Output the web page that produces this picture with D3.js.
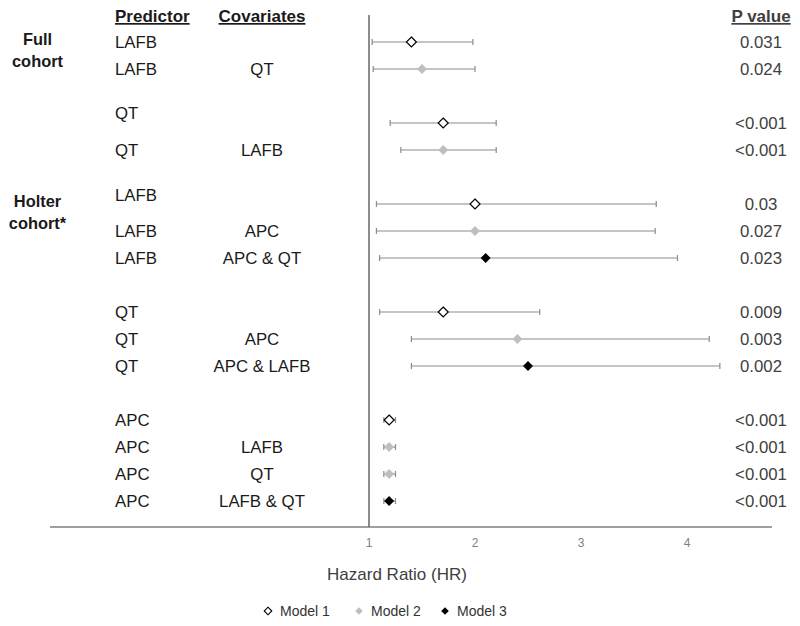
<!DOCTYPE html>
<html><head><meta charset="utf-8">
<script src="https://cdn.jsdelivr.net/npm/d3@7"></script>
<style>body{margin:0;background:#fff}svg{display:block;font-family:"Liberation Sans",Arial,sans-serif}</style>
</head><body><svg id="c" width="800" height="626"></svg>
<script>
const predictors = ["LAFB","LAFB","QT","QT","LAFB","LAFB","LAFB","QT","QT","QT","APC","APC","APC","APC"];
const covariates = ["","QT","","LAFB","","APC","APC & QT","","APC","APC & LAFB","","LAFB","QT","LAFB & QT"];
const groups = [0,0,1,1,2,2,2,3,3,3,4,4,4,4];
const models = [1,2,1,2,1,2,3,1,2,3,1,2,2,3];
const hr = [1.40,1.50,1.70,1.70,2.00,2.00,2.10,1.70,2.40,2.50,1.19,1.19,1.19,1.19];
const lo = [1.03,1.04,1.20,1.30,1.07,1.07,1.10,1.10,1.40,1.40,1.14,1.14,1.14,1.14];
const hi = [1.98,2.00,2.20,2.20,3.71,3.70,3.91,2.61,4.21,4.31,1.25,1.25,1.25,1.25];
const pvals = ["0.031","0.024","<0.001","<0.001","0.03","0.027","0.023","0.009","0.003","0.002","<0.001","<0.001","<0.001","<0.001"];
const cohorts = [{lines:["Full","cohort"],row:0},{lines:["Holter","cohort*"],row:4}];
const ticks = [1,2,3,4];
const modelNames = ["Model 1","Model 2","Model 3"];

const svg = d3.select("#c");
const x = d3.scaleLinear().domain([1,4]).range([369,687]);
const y = d3.scaleLinear().domain([0,17]).range([42,501]);
const slot = i => i + groups[i];
const fills = {1:"#ffffff",2:"#bfbfbf",3:"#000000"};
const strokes = {1:"#000000",2:"none",3:"none"};
const labelNudge = {2:-10,4:-9};

// axes
svg.append("line").attr("x1",50).attr("x2",772).attr("y1",527).attr("y2",527)
  .attr("stroke","#7f7f7f").attr("stroke-width",1.3);
svg.append("line").attr("x1",x(1)).attr("x2",x(1)).attr("y1",15).attr("y2",527)
  .attr("stroke","#666").attr("stroke-width",1.5);
svg.append("g").selectAll("text").data(ticks).join("text")
  .attr("x",d=>x(d)).attr("y",547).attr("text-anchor","middle")
  .attr("font-size",12).attr("fill","#7f7f7f").text(d=>d);
svg.append("text").attr("x",397).attr("y",580).attr("text-anchor","middle")
  .attr("font-size",17).attr("fill","#404040").text("Hazard Ratio (HR)");

// headers
const hdr = [{t:"Predictor",x:115,a:"start"},{t:"Covariates",x:262,a:"middle"},{t:"P value",x:761,a:"middle"}];
svg.append("g").selectAll("text").data(hdr).join("text")
  .attr("x",d=>d.x).attr("y",22).attr("text-anchor",d=>d.a)
  .attr("font-size",17).attr("font-weight","bold")
  .attr("fill",d=>d.t==="P value"?"#404040":"#1a1a1a")
  .attr("text-decoration","underline").text(d=>d.t);

// cohort labels
cohorts.forEach(c=>{
  const yy = y(slot(c.row));
  c.lines.forEach((l,k)=>{
    svg.append("text").attr("x",37.5).attr("y",yy+3+k*22).attr("text-anchor","middle")
      .attr("font-size",16.4).attr("font-weight","bold").attr("fill","#1a1a1a").text(l);
  });
});

const idx = d3.range(predictors.length);
// predictor + covariate labels
svg.append("g").selectAll("text").data(idx).join("text")
  .attr("x",115).attr("y",i=>y(slot(i))+6+(labelNudge[i]||0))
  .attr("font-size",16.8).attr("fill","#1a1a1a").text(i=>predictors[i]);
svg.append("g").selectAll("text").data(idx).join("text")
  .attr("x",262).attr("y",i=>y(slot(i))+6+(labelNudge[i]||0)).attr("text-anchor","middle")
  .attr("font-size",16.8).attr("fill","#1a1a1a").text(i=>covariates[i]);
svg.append("g").selectAll("text").data(idx).join("text")
  .attr("x",761).attr("y",i=>y(slot(i))+6).attr("text-anchor","middle")
  .attr("font-size",16.8).attr("fill","#404040").text(i=>pvals[i]);

// error bars
const eb = svg.append("g").attr("stroke","#8c8c8c").attr("stroke-width",1.2);
idx.forEach(i=>{
  const yy = y(slot(i));
  eb.append("line").attr("x1",x(lo[i])).attr("x2",x(hi[i])).attr("y1",yy).attr("y2",yy);
  eb.append("line").attr("x1",x(lo[i])).attr("x2",x(lo[i])).attr("y1",yy-3).attr("y2",yy+3);
  eb.append("line").attr("x1",x(hi[i])).attr("x2",x(hi[i])).attr("y1",yy-3).attr("y2",yy+3);
});

const diamond = r => `M0,${-r}L${r},0L0,${r}L${-r},0Z`;
svg.append("g").selectAll("path").data(idx).join("path")
  .attr("d",diamond(5))
  .attr("transform",i=>`translate(${x(hr[i])},${y(slot(i))})`)
  .attr("fill",i=>fills[models[i]]).attr("stroke",i=>strokes[models[i]]).attr("stroke-width",1.2);

// legend
const leg = [{m:1,x:268},{m:2,x:359},{m:3,x:445}];
leg.forEach(l=>{
  svg.append("path").attr("d",diamond(3.8)).attr("transform",`translate(${l.x},611)`)
    .attr("fill",fills[l.m]).attr("stroke",strokes[l.m]).attr("stroke-width",1.1);
  svg.append("text").attr("x",l.x+12).attr("y",616).attr("font-size",14).attr("fill","#333")
    .text(modelNames[l.m-1]);
});
</script></body></html>
